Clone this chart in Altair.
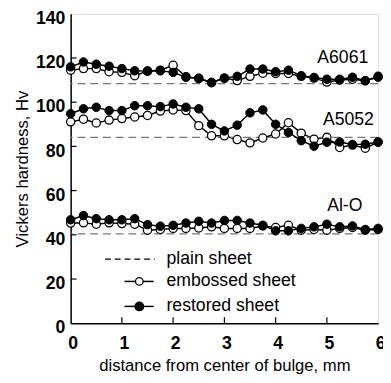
import altair as alt
import pandas as pd

dist = [0, 0.25, 0.5, 0.75, 1.0, 1.25, 1.5, 1.75, 2.0, 2.25, 2.5, 2.75, 3.0,
        3.25, 3.5, 3.75, 4.0, 4.25, 4.5, 4.75, 5.0, 5.25, 5.5, 5.75, 6.0]

a6061_restored = [116.0, 118.2, 117.2, 116.3, 115.2, 114.2, 114.1, 114.2, 113.5, 111.3, 110.9, 109.0, 110.9,
                  111.7, 115.0, 115.0, 113.8, 114.5, 112.0, 111.2, 110.4, 110.4, 111.3, 109.7, 111.3]
a6061_embossed = [114.5, 115.2, 115.2, 113.8, 113.5, 112.0, 114.1, 114.5, 116.7, 111.5, 110.6, 108.8, 110.9,
                  109.8, 111.7, 113.1, 113.0, 113.0, 111.7, 110.9, 109.1, 110.0, 110.4, 109.7, 111.7]
a5052_restored = [94.8, 97.0, 97.7, 96.2, 96.2, 98.4, 98.4, 98.0, 99.2, 97.7, 97.0, 90.0, 87.0,
                  89.6, 95.2, 96.5, 90.0, 86.3, 82.6, 80.1, 81.9, 82.0, 80.9, 81.0, 82.0]
a5052_embossed = [91.1, 92.3, 90.6, 91.9, 92.6, 93.3, 94.0, 96.0, 96.5, 96.2, 89.4, 84.8, 84.8,
                  83.1, 81.6, 83.8, 85.6, 90.7, 86.0, 83.3, 84.1, 79.5, 80.6, 79.2, 81.9]
alo_restored = [46.8, 48.7, 47.3, 46.8, 46.8, 47.3, 44.6, 43.9, 44.3, 45.3, 46.1, 45.3, 46.5,
                46.5, 45.3, 44.3, 41.8, 41.8, 42.9, 43.6, 44.8, 43.6, 44.0, 42.4, 42.9]
alo_embossed = [45.3, 45.4, 44.8, 45.4, 45.1, 44.8, 42.1, 42.4, 42.9, 42.9, 43.1, 43.6, 42.9,
                42.9, 42.9, 44.0, 43.3, 44.3, 42.1, 42.4, 42.1, 42.9, 43.3, 42.1, 42.4]

alloys = ["A6061", "A5052", "Al-O"]
plain_values = [108.4, 84.1, 40.4]
label_x = [5.31, 5.42, 5.35]
label_y = [119.8, 91.7, 53.0]

x_ticks = [0, 1, 2, 3, 4, 5, 6]
y_ticks = [0, 20, 40, 60, 80, 100, 120, 140]
legend_labels = ["plain sheet", "embossed sheet", "restored sheet"]

rows = []
for alloy, emb, res in [("A6061", a6061_embossed, a6061_restored),
                        ("A5052", a5052_embossed, a5052_restored),
                        ("Al-O", alo_embossed, alo_restored)]:
    for d, v in zip(dist, emb):
        rows.append({"x": d, "hv": v, "alloy": alloy, "kind": "embossed"})
    for d, v in zip(dist, res):
        rows.append({"x": d, "hv": v, "alloy": alloy, "kind": "restored"})
df = pd.DataFrame(rows)
emb_df = df[df.kind == "embossed"]
res_df = df[df.kind == "restored"]

plain_df = pd.DataFrame({"alloy": alloys, "hv": plain_values})
lab_df = pd.DataFrame({"alloy": alloys, "x": label_x, "y": label_y})

FONT = "Liberation Sans"
H = 316
xs = alt.Scale(domain=[0, 6], nice=False, zero=False)
ys = alt.Scale(domain=[0, 140], nice=False)

xenc = alt.X("x:Q", scale=xs, axis=alt.Axis(
    values=x_ticks, title="distance from center of bulge, mm", ticks=False,
    labelFontSize=18, labelFontWeight="bold", labelPadding=12, labelOffset=2, titleFontSize=17,
    titleFontWeight="normal", titlePadding=5, domainColor="black", domainWidth=1.5,
    grid=False, labelColor="black", titleColor="black", labelFont=FONT, titleFont=FONT,
    labelFlush=False))
yenc = alt.Y("hv:Q", scale=ys, axis=alt.Axis(
    values=y_ticks, title="Vickers hardness, Hv", ticks=False,
    labelFontSize=18, labelFontWeight="bold", labelPadding=6, labelOffset=5, titleFontSize=17,
    titleFontWeight="normal", titlePadding=4, domainColor="black", domainWidth=1.5,
    grid=False, labelColor="black", titleColor="black", labelFont=FONT, titleFont=FONT,
    labelFlush=False))

plain = alt.Chart(plain_df).mark_rule(color="#777777", strokeDash=[8, 5], strokeWidth=1.2).encode(
    y=alt.Y("hv:Q", scale=ys))

emb_line = alt.Chart(emb_df).mark_line(color="black", strokeWidth=1.5).encode(
    x=xenc, y=yenc, detail="alloy:N")
res_line = alt.Chart(res_df).mark_line(color="black", strokeWidth=1.5).encode(
    x=alt.X("x:Q", scale=xs), y=alt.Y("hv:Q", scale=ys), detail="alloy:N")
emb_pts = alt.Chart(emb_df).mark_point(shape="circle", fill="white", stroke="black",
                                       strokeWidth=1.3, size=70, opacity=1, filled=False).encode(
    x=alt.X("x:Q", scale=xs), y=alt.Y("hv:Q", scale=ys))
res_pts = alt.Chart(res_df).mark_point(shape="circle", fill="black", stroke="black",
                                       strokeWidth=1, size=75, opacity=1, filled=True).encode(
    x=alt.X("x:Q", scale=xs), y=alt.Y("hv:Q", scale=ys))

labels = alt.Chart(lab_df).mark_text(font=FONT, fontSize=18, color="black").encode(
    x=alt.X("x:Q", scale=xs), y=alt.Y("y:Q", scale=ys), text="alloy:N")

# inward ticks
ytick_df = pd.DataFrame({"hv": y_ticks[1:-1]})
xtick_df = pd.DataFrame({"x": x_ticks[1:-1]})
yticks = alt.Chart(ytick_df).mark_rule(color="black", strokeWidth=1.2).encode(
    y=alt.Y("hv:Q", scale=ys), x=alt.value(0), x2=alt.value(6))
xticks = alt.Chart(xtick_df).mark_rule(color="black", strokeWidth=1.2).encode(
    x=alt.X("x:Q", scale=xs), y=alt.value(H), y2=alt.value(H - 6))

# legend
leg_y = [29.0, 18.9, 7.6]
leg_df = pd.DataFrame({"label": legend_labels, "y": leg_y})
leg_dash = alt.Chart(leg_df.iloc[[0]]).mark_rule(color="black", strokeDash=[6, 4], strokeWidth=1.3).encode(
    x=alt.datum(0.67, scale=xs), x2=alt.datum(1.64), y=alt.Y("y:Q", scale=ys))
leg_lines = alt.Chart(leg_df.iloc[[1, 2]]).mark_rule(color="black", strokeWidth=1.5).encode(
    x=alt.datum(1.05, scale=xs), x2=alt.datum(1.62), y=alt.Y("y:Q", scale=ys))
leg_open = alt.Chart(leg_df.iloc[[1]]).mark_point(shape="circle", fill="white", stroke="black",
                                                  strokeWidth=1.3, size=60, opacity=1).encode(
    x=alt.datum(1.34, scale=xs), y=alt.Y("y:Q", scale=ys))
leg_fill = alt.Chart(leg_df.iloc[[2]]).mark_point(shape="circle", fill="black", stroke="black",
                                                  size=65, opacity=1, filled=True).encode(
    x=alt.datum(1.34, scale=xs), y=alt.Y("y:Q", scale=ys))
leg_text = alt.Chart(leg_df).mark_text(font=FONT, fontSize=18, align="left", color="black",
                                       baseline="middle").encode(
    x=alt.datum(1.87, scale=xs), y=alt.Y("y:Q", scale=ys), text="label:N")

chart = alt.layer(
    emb_line, plain, yticks, xticks, res_line, emb_pts, res_pts, labels,
    leg_dash, leg_lines, leg_open, leg_fill, leg_text
).properties(
    width=314, height=H,
    autosize=alt.AutoSizeParams(type="none"),
    padding={"left": 64, "top": 2, "right": 5, "bottom": 50},
).configure_view(stroke="black", strokeWidth=1.5).configure(background="white")

chart.save("out.html", embed_options={"renderer": "svg", "actions": False})
